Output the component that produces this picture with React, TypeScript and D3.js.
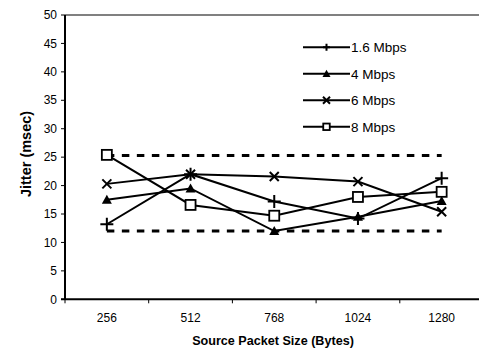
import React from "react";
import * as d3 from "d3";

const categories = ["256", "512", "768", "1024", "1280"];
const seriesNames = ["1.6 Mbps", "4 Mbps", "6 Mbps", "8 Mbps"];
const s16 = [13.2, 22.0, 17.2, 14.2, 21.3];
const s4 = [17.5, 19.5, 12.0, 14.5, 17.3];
const s6 = [20.3, 22.0, 21.6, 20.7, 15.4];
const s8 = [25.4, 16.6, 14.7, 18.0, 18.9];
const upperBound = [25.3, 25.3, 25.3, 25.3, 25.3];
const lowerBound = [12.0, 12.0, 12.0, 12.0, 12.0];
const yTicks = [0, 5, 10, 15, 20, 25, 30, 35, 40, 45, 50];

const W = 479, H = 349;
const left = 65, top = 15, bottom = 299.3, right = 483.5;
const font = "Liberation Sans, Arial, sans-serif";

function Marker({ type, x, y, s }: { type: string; x: number; y: number; s: number }) {
  const h = s / 2;
  if (type === "plus")
    return <path d={`M${x - h},${y}H${x + h}M${x},${y - h}V${y + h}`} stroke="#000" strokeWidth={2} fill="none" />;
  if (type === "tri")
    return <path d={`M${x},${y - h}L${x + h},${y + h * 0.8}L${x - h},${y + h * 0.8}Z`} fill="#000" />;
  if (type === "x")
    return <path d={`M${x - h},${y - h}L${x + h},${y + h}M${x - h},${y + h}L${x + h},${y - h}`} stroke="#000" strokeWidth={2} fill="none" />;
  return <rect x={x - h} y={y - h} width={s} height={s} fill="#fff" stroke="#000" strokeWidth={1.8} />;
}

export default function App() {
  const x = d3.scaleBand<string>().domain(categories).range([left, right]).paddingInner(0).paddingOuter(0);
  const bw = x.bandwidth();
  const cx = (c: string) => (x(c) as number) + bw / 2;
  const y = d3.scaleLinear().domain([0, 50]).range([bottom, top]);
  const line = d3.line<number>().x((_, i) => cx(categories[i])).y((d) => y(d));
  const series = [
    { name: seriesNames[0], data: s16, m: "plus", ds: 13, ls: 7 },
    { name: seriesNames[1], data: s4, m: "tri", ds: 10, ls: 8 },
    { name: seriesNames[2], data: s6, m: "x", ds: 9, ls: 7 },
    { name: seriesNames[3], data: s8, m: "sq", ds: 10, ls: 6.5 },
  ];
  const boundaries = categories.slice(1).map((c) => x(c) as number);
  return (
    <svg width={W} height={H} style={{ position: "absolute", left: 0, top: 0, background: "#fff" }}>
      <rect width={W} height={H} fill="#fff" />
      <line x1={left} x2={W} y1={top} y2={top} stroke="#808080" strokeWidth={2} />
      {[upperBound, lowerBound].map((b, i) => (
        <path key={i} d={line(b) || ""} fill="none" stroke="#000" strokeWidth={3} strokeDasharray="7.5,7.5" />
      ))}
      {series.map((s) => (
        <g key={s.name}>
          <path d={line(s.data) || ""} fill="none" stroke="#000" strokeWidth={2} />
          {s.data.map((v, i) => (
            <Marker key={i} type={s.m} x={cx(categories[i])} y={y(v)} s={s.ds} />
          ))}
        </g>
      ))}
      <line x1={left} x2={left} y1={top} y2={bottom} stroke="#000" strokeWidth={2} />
      <line x1={left - 4} x2={W} y1={bottom} y2={bottom} stroke="#000" strokeWidth={2} />
      {yTicks.map((t) => (
        <g key={t}>
          <line x1={left - 4} x2={left} y1={y(t)} y2={y(t)} stroke="#000" strokeWidth={1} />
          <text x={left - 8} y={y(t)} dy="0.35em" textAnchor="end" fontFamily={font} fontSize={12} fill="#000">{t}</text>
        </g>
      ))}
      {[left, ...boundaries].map((b, i) => (
        <line key={i} x1={b} x2={b} y1={bottom} y2={bottom + 4} stroke="#000" strokeWidth={1} />
      ))}
      {categories.map((c) => (
        <text key={c} x={cx(c)} y={321.5} textAnchor="middle" fontFamily={font} fontSize={12} fill="#000">{c}</text>
      ))}
      <text x={273} y={344.5} textAnchor="middle" fontFamily={font} fontSize={12.6} fontWeight="bold" fill="#000">Source Packet Size (Bytes)</text>
      <text transform={`translate(31,154) rotate(-90)`} textAnchor="middle" fontFamily={font} fontSize={14.5} fontWeight="bold" fill="#000">Jitter (msec)</text>
      {series.map((s, i) => {
        const ly = 47.3 + i * 26.5;
        return (
          <g key={s.name}>
            <line x1={303} x2={350} y1={ly} y2={ly} stroke="#000" strokeWidth={2} />
            <Marker type={s.m} x={326.5} y={ly} s={s.ls} />
            <text x={351} y={ly} dy="0.35em" fontFamily={font} fontSize={13.5} fill="#000">{s.name}</text>
          </g>
        );
      })}
    </svg>
  );
}
